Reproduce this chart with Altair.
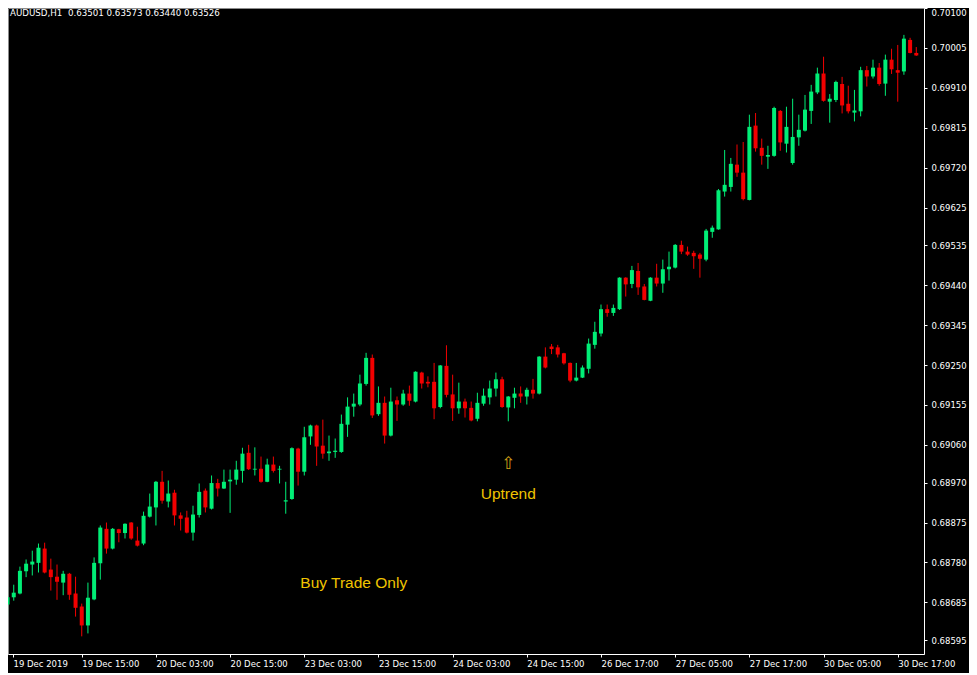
import json
import altair as alt
import pandas as pd

# ---------------- data (AUDUSD H1 candles) ----------------
open_ = [0.68680, 0.68697, 0.68706, 0.68759, 0.68775, 0.68779, 0.68813, 0.68763, 0.68746, 0.68732,
         0.68753, 0.68706, 0.68675, 0.68630, 0.68692, 0.68778, 0.68860, 0.68813, 0.68859, 0.68850,
         0.68875, 0.68832, 0.68825, 0.68889, 0.68911, 0.68972, 0.68925, 0.68946, 0.68892, 0.68887,
         0.68851, 0.68893, 0.68951, 0.68908, 0.68969, 0.68956, 0.68973, 0.68977, 0.68998, 0.69041,
         0.69001, 0.69003, 0.68972, 0.69013, 0.69001, 0.68925, 0.68931, 0.69051, 0.68996, 0.69080,
         0.69106, 0.69058, 0.69040, 0.69043, 0.69043, 0.69108, 0.69151, 0.69156, 0.69205, 0.69267,
         0.69133, 0.69160, 0.69082, 0.69166, 0.69156, 0.69182, 0.69163, 0.69232, 0.69210, 0.69210,
         0.69150, 0.69248, 0.69180, 0.69147, 0.69163, 0.69148, 0.69122, 0.69158, 0.69173, 0.69194,
         0.69216, 0.69149, 0.69172, 0.69182, 0.69175, 0.69191, 0.69182, 0.69270, 0.69294, 0.69292,
         0.69278, 0.69255, 0.69213, 0.69220, 0.69241, 0.69298, 0.69325, 0.69383, 0.69374, 0.69383,
         0.69458, 0.69443, 0.69474, 0.69437, 0.69403, 0.69458, 0.69444, 0.69478, 0.69482, 0.69536,
         0.69520, 0.69517, 0.69513, 0.69501, 0.69567, 0.69573, 0.69663, 0.69674, 0.69727, 0.69708,
         0.69643, 0.69820, 0.69767, 0.69746, 0.69748, 0.69855, 0.69777, 0.69731, 0.69792, 0.69808,
         0.69855, 0.69899, 0.69944, 0.69877, 0.69881, 0.69919, 0.69872, 0.69851, 0.69854, 0.69952,
         0.69937, 0.69958, 0.69920, 0.69977, 0.69952, 0.69949, 0.70024, 0.69993]
high = [0.68721, 0.68727, 0.68770, 0.68787, 0.68808, 0.68825, 0.68827, 0.68789, 0.68775, 0.68760,
        0.68755, 0.68746, 0.68682, 0.68732, 0.68792, 0.68868, 0.68875, 0.68862, 0.68860, 0.68873,
        0.68876, 0.68865, 0.68901, 0.68944, 0.68974, 0.68998, 0.68975, 0.68953, 0.68899, 0.68903,
        0.68915, 0.68968, 0.68956, 0.68987, 0.68979, 0.69001, 0.69001, 0.69022, 0.69053, 0.69060,
        0.69054, 0.69032, 0.69027, 0.69032, 0.69010, 0.68972, 0.69054, 0.69053, 0.69103, 0.69108,
        0.69108, 0.69120, 0.69082, 0.69075, 0.69132, 0.69173, 0.69182, 0.69227, 0.69279, 0.69275,
        0.69199, 0.69175, 0.69196, 0.69175, 0.69191, 0.69201, 0.69235, 0.69234, 0.69223, 0.69255,
        0.69250, 0.69297, 0.69227, 0.69208, 0.69170, 0.69163, 0.69184, 0.69194, 0.69213, 0.69232,
        0.69222, 0.69176, 0.69196, 0.69199, 0.69196, 0.69217, 0.69271, 0.69292, 0.69300, 0.69298,
        0.69279, 0.69256, 0.69255, 0.69249, 0.69313, 0.69353, 0.69394, 0.69394, 0.69394, 0.69459,
        0.69459, 0.69486, 0.69493, 0.69443, 0.69459, 0.69491, 0.69501, 0.69520, 0.69538, 0.69546,
        0.69532, 0.69522, 0.69517, 0.69574, 0.69582, 0.69669, 0.69762, 0.69743, 0.69775, 0.69781,
        0.69846, 0.69850, 0.69789, 0.69772, 0.69865, 0.69857, 0.69865, 0.69884, 0.69846, 0.69893,
        0.69917, 0.69958, 0.69984, 0.69895, 0.69927, 0.69936, 0.69915, 0.69905, 0.69960, 0.69962,
        0.69977, 0.69969, 0.69989, 0.70003, 0.70012, 0.70036, 0.70029, 0.70007]
low = [0.68651, 0.68689, 0.68704, 0.68745, 0.68749, 0.68756, 0.68754, 0.68713, 0.68691, 0.68702,
       0.68691, 0.68651, 0.68604, 0.68611, 0.68690, 0.68739, 0.68801, 0.68811, 0.68828, 0.68837,
       0.68834, 0.68818, 0.68821, 0.68887, 0.68868, 0.68920, 0.68911, 0.68868, 0.68856, 0.68849,
       0.68832, 0.68887, 0.68899, 0.68906, 0.68937, 0.68955, 0.68898, 0.68965, 0.68970, 0.69000,
       0.68987, 0.68970, 0.68971, 0.68994, 0.68968, 0.68896, 0.68929, 0.68963, 0.68987, 0.69060,
       0.69010, 0.69027, 0.69022, 0.69029, 0.69041, 0.69079, 0.69127, 0.69152, 0.69201, 0.69124,
       0.69129, 0.69063, 0.69080, 0.69117, 0.69153, 0.69153, 0.69161, 0.69194, 0.69197, 0.69121,
       0.69147, 0.69173, 0.69117, 0.69134, 0.69125, 0.69116, 0.69116, 0.69153, 0.69156, 0.69175,
       0.69148, 0.69116, 0.69147, 0.69160, 0.69156, 0.69170, 0.69180, 0.69242, 0.69276, 0.69268,
       0.69251, 0.69209, 0.69211, 0.69219, 0.69230, 0.69289, 0.69318, 0.69365, 0.69367, 0.69381,
       0.69413, 0.69433, 0.69417, 0.69404, 0.69402, 0.69437, 0.69422, 0.69451, 0.69480, 0.69514,
       0.69510, 0.69479, 0.69458, 0.69497, 0.69553, 0.69572, 0.69651, 0.69663, 0.69698, 0.69642,
       0.69642, 0.69758, 0.69727, 0.69717, 0.69746, 0.69760, 0.69756, 0.69727, 0.69772, 0.69806,
       0.69824, 0.69895, 0.69877, 0.69827, 0.69876, 0.69849, 0.69849, 0.69830, 0.69842, 0.69913,
       0.69932, 0.69915, 0.69891, 0.69943, 0.69877, 0.69941, 0.69992, 0.69986]
close = [0.68697, 0.68708, 0.68760, 0.68777, 0.68782, 0.68815, 0.68756, 0.68745, 0.68734, 0.68753,
         0.68703, 0.68672, 0.68630, 0.68696, 0.68779, 0.68863, 0.68813, 0.68860, 0.68850, 0.68872,
         0.68837, 0.68820, 0.68891, 0.68913, 0.68972, 0.68927, 0.68944, 0.68892, 0.68884, 0.68851,
         0.68894, 0.68948, 0.68911, 0.68969, 0.68956, 0.68972, 0.68977, 0.69001, 0.69039, 0.69002,
         0.69003, 0.68972, 0.69013, 0.68998, 0.69003, 0.68928, 0.69052, 0.68996, 0.69078, 0.69106,
         0.69056, 0.69039, 0.69044, 0.69046, 0.69110, 0.69151, 0.69158, 0.69206, 0.69267, 0.69130,
         0.69160, 0.69082, 0.69163, 0.69156, 0.69182, 0.69165, 0.69234, 0.69206, 0.69206, 0.69147,
         0.69249, 0.69179, 0.69147, 0.69163, 0.69147, 0.69118, 0.69160, 0.69177, 0.69194, 0.69216,
         0.69150, 0.69175, 0.69182, 0.69175, 0.69191, 0.69182, 0.69270, 0.69244, 0.69288, 0.69275,
         0.69254, 0.69213, 0.69220, 0.69244, 0.69301, 0.69329, 0.69383, 0.69374, 0.69386, 0.69458,
         0.69442, 0.69476, 0.69435, 0.69405, 0.69458, 0.69444, 0.69478, 0.69484, 0.69536, 0.69520,
         0.69513, 0.69509, 0.69503, 0.69570, 0.69577, 0.69666, 0.69679, 0.69729, 0.69708, 0.69645,
         0.69817, 0.69766, 0.69748, 0.69750, 0.69862, 0.69780, 0.69817, 0.69793, 0.69810, 0.69858,
         0.69901, 0.69944, 0.69879, 0.69884, 0.69924, 0.69868, 0.69854, 0.69856, 0.69952, 0.69937,
         0.69958, 0.69919, 0.69977, 0.69954, 0.69946, 0.70027, 0.69993, 0.69987]

time_tick_bars = [0, 12, 24, 36, 48, 60, 72, 84, 96, 108, 120, 132, 144]
time_tick_labels = ["19 Dec 2019", "19 Dec 15:00", "20 Dec 03:00", "20 Dec 15:00",
                    "23 Dec 03:00", "23 Dec 15:00", "24 Dec 03:00", "24 Dec 15:00",
                    "26 Dec 17:00", "27 Dec 05:00", "27 Dec 17:00", "30 Dec 05:00",
                    "30 Dec 17:00"]
price_ticks = [0.70100, 0.70005, 0.69910, 0.69815, 0.69720, 0.69625, 0.69535, 0.69440,
               0.69345, 0.69250, 0.69155, 0.69060, 0.68970, 0.68875, 0.68780, 0.68685,
               0.68595]

header_text = "AUDUSD,H1\u00a0\u00a00.63501 0.63573 0.63440 0.63526"
note_text = ["Buy Trade Only", "Uptrend"]
note_bar = [56, 81]
note_price = [0.68732, 0.68944]
arrow_bar = [81]
arrow_price = [0.69015]

# ---------------- styling ----------------
GREEN = "#00EE76"
RED = "#F20000"
GOLD = "#F0C400"
AXIS_FONT = "DejaVu Sans"
W, H = 916, 646
X_DOMAIN = [0.88, 147.44]
Y_DOMAIN = [0.68562, 0.70100]

df = pd.DataFrame({"bar": list(range(len(open_))), "open": open_, "high": high,
                   "low": low, "close": close})
df["dir"] = ["up" if c >= o else "down" for o, c in zip(open_, close)]

xs = alt.Scale(domain=X_DOMAIN, nice=False, zero=False)
ys = alt.Scale(domain=Y_DOMAIN, nice=False, zero=False)
cs = alt.Scale(domain=["up", "down"], range=[GREEN, RED])

x_values = [max(b, X_DOMAIN[0]) for b in time_tick_bars]
label_expr = json.dumps(time_tick_labels).replace('"', "'") + "[round(datum.value / 12)]"

x_axis = alt.Axis(values=x_values, labelExpr=label_expr, orient="bottom", title=None,
                  grid=False, tickSize=3, tickColor="#ffffff", domainColor="#ffffff",
                  labelColor="#ffffff", labelFont=AXIS_FONT, labelFontSize=8.5,
                  labelAlign="left", labelBaseline="top", labelPadding=2,
                  labelFlush=False, labelOverlap=False, zindex=1)
y_axis = alt.Axis(values=price_ticks, format=".5f", orient="right", title=None,
                  grid=False, tickSize=3, tickColor="#ffffff", domainColor="#ffffff",
                  labelColor="#ffffff", labelFont=AXIS_FONT, labelFontSize=8.5,
                  labelPadding=4, labelFlush=True, labelOverlap=False, zindex=1)


def X(field):
    return alt.X(field, type="quantitative", scale=xs, axis=x_axis, title=None)


def Y(field):
    return alt.Y(field, type="quantitative", scale=ys, axis=y_axis, title=None)


base = alt.Chart(df)
wicks = base.mark_rule(strokeWidth=1, clip=True).encode(
    x=X("bar"), y=Y("low"), y2="high:Q",
    color=alt.Color("dir:N", scale=cs, legend=None),
)
bodies = base.mark_bar(size=4, clip=True).encode(
    x=X("bar"), y=Y("open"), y2="close:Q",
    color=alt.Color("dir:N", scale=cs, legend=None),
)

notes = alt.Chart(pd.DataFrame({"bar": note_bar, "open": note_price, "t": note_text})).mark_text(
    font="Liberation Sans", fontSize=15.5, color=GOLD, align="center", baseline="middle"
).encode(x=X("bar"), y=Y("open"), text="t:N")

arrow = alt.Chart(pd.DataFrame({"bar": arrow_bar, "open": arrow_price, "t": ["\u21e7"]})).mark_text(
    font="DejaVu Sans", fontSize=17, color="#D4A017", align="center", baseline="middle"
).encode(x=X("bar"), y=Y("open"), text="t:N")

header = alt.Chart(pd.DataFrame({"t": [header_text]})).mark_text(
    font=AXIS_FONT, fontSize=8.7, color="#ffffff", align="left", baseline="top"
).encode(x=alt.value(2), y=alt.value(1), text="t:N")

chart = alt.layer(wicks, bodies, notes, arrow, header).properties(
    width=W, height=H, background="#000000",
    autosize=alt.AutoSizeParams(type="none"),
    padding={"left": 0, "top": 0, "right": 45, "bottom": 19},
).configure_view(stroke="#8c8c8c", strokeWidth=1)

chart.save("out.html", embed_options={"renderer": "svg", "actions": False})
